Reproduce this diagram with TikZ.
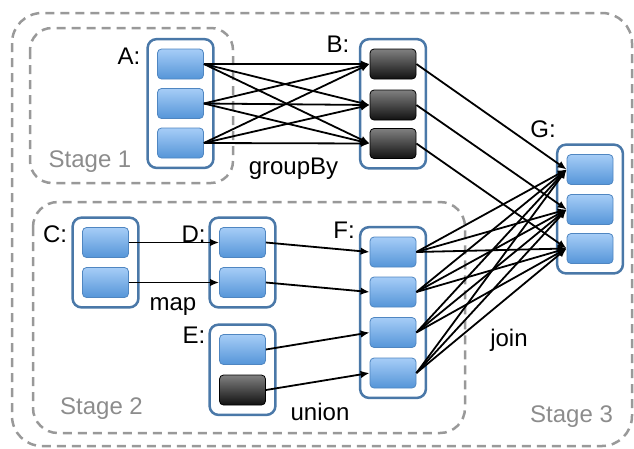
\documentclass[tikz,border=0pt]{standalone}
\usepackage{fontspec}
\setmainfont{Liberation Sans}
\usetikzlibrary{arrows.meta,fit}

\definecolor{parttop}{HTML}{A6CDF7}
\definecolor{partbot}{HTML}{5595D8}
\definecolor{partedge}{HTML}{4F86C1}
\definecolor{darktop}{HTML}{808080}
\definecolor{darkbot}{HTML}{111111}
\definecolor{rddedge}{HTML}{4A78A8}
\definecolor{stagegray}{HTML}{999999}
\definecolor{stagetext}{HTML}{8C8C8C}

\tikzset{
  part/.style={draw=partedge, line width=0.8pt, rounded corners=4pt,
    top color=parttop, bottom color=partbot,
    minimum width=46pt, minimum height=30pt, inner sep=0pt},
  blackpart/.style={part, draw=black, top color=darktop, bottom color=darkbot},
  rdd/.style={draw=rddedge, line width=2.5pt, rounded corners=9pt, inner sep=9.5pt},
  stagebox/.style={draw=stagegray, line width=2.5pt, dash pattern=on 9pt off 6pt},
  lbl/.style={font=\fontsize{24}{28}\selectfont, anchor=base, inner sep=0pt},
  stagelbl/.style={lbl, text=stagetext},
  dep/.style={->, line width=1.8pt},
  >={Latex[length=9pt,width=7.5pt]}
}

\begin{document}
\begin{tikzpicture}[x=1pt,y=-1pt]
  \useasboundingbox (0,0) rectangle (634,448);

  % stages
  \draw[stagebox, rounded corners=30pt] (12,13) rectangle (632,446);
  \draw[stagebox, rounded corners=22pt] (30,28) rectangle (233,183);
  \draw[stagebox, rounded corners=25pt] (33,202) rectangle (465,433);
  \node[stagelbl] (S1) at (90,167) {Stage 1};
  \node[stagelbl] (S2) at (101.5,414) {Stage 2};
  \node[stagelbl] (S3) at (571.5,422) {Stage 3};

  % partitions
  \node[part] (a1) at (180.5,64) {};
  \node[part] (a2) at (180.5,103.5) {};
  \node[part] (a3) at (180.5,143) {};
  \node[blackpart] (b1) at (393,64) {};
  \node[blackpart] (b2) at (393,105) {};
  \node[blackpart] (b3) at (393,143.5) {};
  \node[part] (c1) at (105.5,242.5) {};
  \node[part] (c2) at (105.5,282.5) {};
  \node[part] (d1) at (242.5,242.5) {};
  \node[part] (d2) at (242.5,282.5) {};
  \node[part] (e1) at (242.5,349.5) {};
  \node[blackpart] (e2) at (242.5,390) {};
  \node[part] (f1) at (393,252) {};
  \node[part] (f2) at (393,292) {};
  \node[part] (f3) at (393,332.5) {};
  \node[part] (f4) at (393,373) {};
  \node[part] (g1) at (590,169.5) {};
  \node[part] (g2) at (590,209.5) {};
  \node[part] (g3) at (590,248.5) {};

  % datasets
  \node[rdd, fit=(a1)(a3)] (A) {};
  \node[rdd, fit=(b1)(b3)] (B) {};
  \node[rdd, fit=(c1)(c2)] (C) {};
  \node[rdd, fit=(d1)(d2)] (D) {};
  \node[rdd, fit=(e1)(e2)] (E) {};
  \node[rdd, fit=(f1)(f4)] (F) {};
  \node[rdd, fit=(g1)(g3)] (G) {};

  \node[lbl] (lA) at (129,64) {A:};
  \node[lbl] (lB) at (338,52) {B:};
  \node[lbl] (lC) at (55,242) {C:};
  \node[lbl] (lD) at (193.5,242) {D:};
  \node[lbl] (lE) at (194,343) {E:};
  \node[lbl] (lF) at (344,238) {F:};
  \node[lbl] (lG) at (543,137) {G:};
  \node[lbl] (groupby) at (293.5,174.5) {groupBy};
  \node[lbl] (map) at (173,310) {map};
  \node[lbl] (union) at (320,420) {union};
  \node[lbl] (join) at (509,346) {join};

  % dependencies
  \path[dep] (a1.east) edge (b1.west);
  \path[dep] (a1.east) edge (b2.west);
  \path[dep] (a1.east) edge (b3.west);
  \path[dep] (a2.east) edge (b1.west);
  \path[dep] (a2.east) edge (b2.west);
  \path[dep] (a2.east) edge (b3.west);
  \path[dep] (a3.east) edge (b1.west);
  \path[dep] (a3.east) edge (b2.west);
  \path[dep] (a3.east) edge (b3.west);

  \path[dep] (c1.east) edge (d1.west);
  \path[dep] (c2.east) edge (d2.west);
  \path[dep] (d1.east) edge (f1.west);
  \path[dep] (d2.east) edge (f2.west);
  \path[dep] (e1.east) edge (f3.west);
  \path[dep] (e2.east) edge (f4.west);

  \path[dep] (b1.east) edge (g1.west);
  \path[dep] (b2.east) edge (g2.west);
  \path[dep] (b3.east) edge (g3.west);

  \path[dep] (f1.east) edge (g1.west);
  \path[dep] (f1.east) edge (g2.west);
  \path[dep] (f1.east) edge (g3.west);
  \path[dep] (f2.east) edge (g1.west);
  \path[dep] (f2.east) edge (g2.west);
  \path[dep] (f2.east) edge (g3.west);
  \path[dep] (f3.east) edge (g1.west);
  \path[dep] (f3.east) edge (g2.west);
  \path[dep] (f3.east) edge (g3.west);
  \path[dep] (f4.east) edge (g1.west);
  \path[dep] (f4.east) edge (g2.west);
  \path[dep] (f4.east) edge (g3.west);
\end{tikzpicture}
\end{document}
